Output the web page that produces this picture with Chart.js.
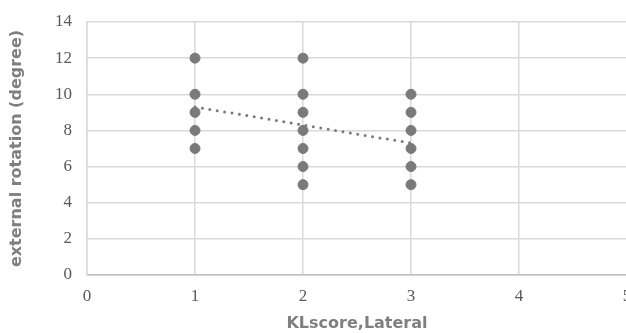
<!DOCTYPE html>
<html lang="en">
<head>
    <meta charset="UTF-8">
    <title>KLscore vs external rotation</title>
    <script src="https://cdn.jsdelivr.net/npm/chart.js"></script>
    <style>
        html, body { margin: 0; padding: 0; overflow: hidden; background: #fff; }
    </style>
</head>
<body>
    <div style="width: 660px; height: 333px;">
        <canvas id="scatterChart"></canvas>
    </div>

    <script>
        // values
        const klScore = [1, 1, 1, 1, 1, 2, 2, 2, 2, 2, 2, 2, 3, 3, 3, 3, 3, 3];
        const rotation = [12, 10, 9, 8, 7, 12, 10, 9, 8, 7, 6, 5, 10, 9, 8, 7, 6, 5];
        // linear trendline ends
        const trendX = [1, 3];
        const trendY = [9.3, 7.3];

        const xMin = 0, xMax = 5, xStep = 1;
        const yMin = 0, yMax = 14, yStep = 2;

        const gray = '#7a7a7a';
        const tickFont = { family: "'Liberation Serif', 'Times New Roman', serif", size: 17 };
        const titleFont = { family: "'DejaVu Sans', sans-serif", size: 16, weight: 'bold' };

        const ctx = document.getElementById('scatterChart').getContext('2d');
        new Chart(ctx, {
            type: 'scatter',
            data: {
                datasets: [
                    {
                        label: 'Trend',
                        type: 'line',
                        data: trendX.map((x, i) => ({ x: x, y: trendY[i] })),
                        borderColor: gray,
                        borderWidth: 3,
                        borderDash: [0, 7.5],
                        borderCapStyle: 'round',
                        pointRadius: 0,
                        fill: false,
                        order: 0,
                    },
                    {
                        label: 'external rotation',
                        data: klScore.map((x, i) => ({ x: x, y: rotation[i] })),
                        backgroundColor: gray,
                        borderColor: gray,
                        pointRadius: 5,
                        order: 1,
                    }
                ],
            },
            options: {
                responsive: true,
                maintainAspectRatio: false,
                animation: false,
                layout: { padding: { top: 22, right: 33, left: 0, bottom: 0 } },
                plugins: { legend: { display: false }, tooltip: { enabled: false } },
                scales: {
                    x: {
                        type: 'linear',
                        min: xMin, max: xMax,
                        afterFit: s => { s.height = 58; },
                        ticks: { stepSize: xStep, color: '#595959', font: tickFont, padding: 11 },
                        grid: { color: '#d9d9d9', lineWidth: 1.5, drawTicks: false },
                        border: { color: '#bfbfbf', width: 1.5 },
                        title: {
                            display: true,
                            text: 'KLscore,Lateral',
                            color: '#7f7f7f',
                            font: titleFont,
                            padding: { top: 0, bottom: 0 },
                        },
                    },
                    y: {
                        min: yMin, max: yMax,
                        afterFit: s => { s.width = 87; s.paddingTop = 0; s.paddingBottom = 0; },
                        ticks: { stepSize: yStep, color: '#595959', font: tickFont, padding: 15 },
                        grid: { color: '#d9d9d9', lineWidth: 1.5, drawTicks: false },
                        border: { color: '#d9d9d9', width: 1.5 },
                        title: {
                            display: true,
                            text: 'external rotation (degree)',
                            color: '#7f7f7f',
                            font: titleFont,
                            padding: { top: 7, bottom: 0 },
                        },
                    },
                },
            },
        });
    </script>
</body>
</html>
